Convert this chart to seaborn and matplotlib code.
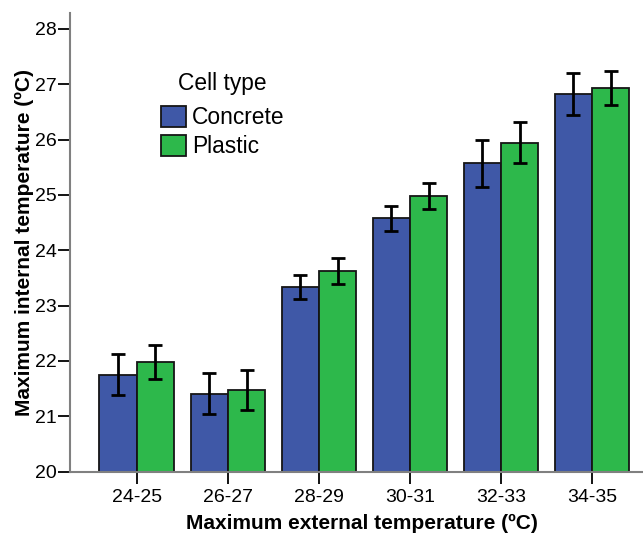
import pandas as pd
import matplotlib
matplotlib.use("Agg")
import matplotlib.pyplot as plt
import seaborn as sns

# Values
categories = ["24-25", "26-27", "28-29", "30-31", "32-33", "34-35"]
concrete = [21.75, 21.41, 23.33, 24.58, 25.58, 26.82]
concrete_lo = [21.39, 21.04, 23.12, 24.35, 25.15, 26.45]
concrete_hi = [22.13, 21.78, 23.56, 24.80, 26.00, 27.20]
plastic = [21.98, 21.47, 23.62, 24.98, 25.94, 26.94]
plastic_lo = [21.68, 21.12, 23.39, 24.74, 25.58, 26.63]
plastic_hi = [22.29, 21.83, 23.86, 25.22, 26.31, 27.23]
cell_types = ["Concrete", "Plastic"]
colors = ["#3F58A7", "#2DB84B"]

sns.set_style("white", {"xtick.bottom": True, "ytick.left": True,
                        "text.color": "black", "axes.labelcolor": "black",
                        "xtick.color": "black", "ytick.color": "black"})
plt.rcParams["font.family"] = ["Liberation Sans", "DejaVu Sans"]

df = pd.DataFrame({
    "range": categories * 2,
    "cell": ["Concrete"] * len(categories) + ["Plastic"] * len(categories),
    "temp": concrete + plastic,
})

fig = plt.figure(figsize=(6.43, 5.33), dpi=100)
ax = fig.add_axes([0.109, 0.115, 0.891, 0.861])

sns.barplot(
    data=df, x="range", y="temp", hue="cell",
    order=categories, hue_order=cell_types, palette=colors,
    width=0.82, errorbar=None, edgecolor="#151515", linewidth=1.3,
    saturation=1, ax=ax
)

# error bars on top of each bar
lows = [concrete_lo, plastic_lo]
highs = [concrete_hi, plastic_hi]
for cont, lo, hi in zip(ax.containers, lows, highs):
    for bar, l, h in zip(cont.patches, lo, hi):
        xc = bar.get_x() + bar.get_width() / 2
        ax.errorbar(
            xc, (l + h) / 2, yerr=(h - l) / 2,
            fmt="none", ecolor="black", elinewidth=2, capsize=5, capthick=2
        )

ax.set_ylim(20, 28.29)
ax.set_xlim(-0.733, 5.56)
ax.set_yticks(range(20, 29))

for side in ["top", "right"]:
    ax.spines[side].set_visible(False)
for side in ["left", "bottom"]:
    ax.spines[side].set_color("#808080")
    ax.spines[side].set_linewidth(1.5)

ax.tick_params(axis="both", which="major", direction="out", length=8.5,
               width=1.3, color="black", labelcolor="black", labelsize=14)
ax.tick_params(axis="y", pad=1)
ax.tick_params(axis="x", pad=4)

ax.set_xlabel("Maximum external temperature (ºC)", fontsize=15,
              fontweight="bold")
ax.set_ylabel("Maximum internal temperature (ºC)", fontsize=15,
              fontweight="bold")
ax.xaxis.set_label_coords(0.51, -0.0915)
ax.yaxis.set_label_coords(-0.063, 0.5)

leg = ax.legend(
    title="Cell type", frameon=False, loc="upper left",
    bbox_to_anchor=(0.25, 0.865), bbox_transform=fig.transFigure,
    fontsize=16.4, title_fontsize=16.4, borderpad=0, borderaxespad=0,
    handlelength=1.1, handleheight=1.05, handletextpad=0.28, labelspacing=0.25
)
leg._legend_box.sep = 8  # a bit more room under the title
for h in leg.legend_handles:
    h.set_edgecolor("#151515")
    h.set_linewidth(1.3)

fig.savefig("out.png", dpi=100)
